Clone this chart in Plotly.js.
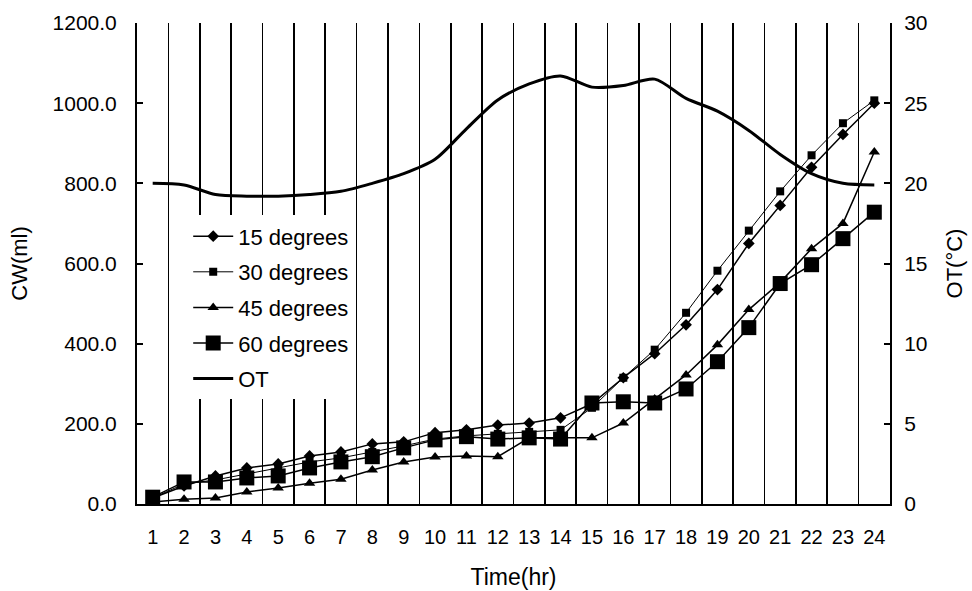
<!DOCTYPE html>
<html><head><meta charset="utf-8">
<script src="https://cdn.plot.ly/plotly-3.0.1.min.js"></script>
<style>html,body{margin:0;padding:0;background:#fff}#chart{width:972px;height:591px}</style>
</head><body><div id="chart"></div>
<script>
const hours = [1,2,3,4,5,6,7,8,9,10,11,12,13,14,15,16,17,18,19,20,21,22,23,24];
const deg15 = [15,45,70,90,100,120,130,150,155,178,185,197,202,215,250,315,375,447,535,650,745,840,922,1000];
const deg30 = [15,50,60,75,90,105,115,130,145,162,170,175,180,185,240,315,385,477,582,682,780,870,950,1007];
const deg45 = [5,12,15,30,40,52,62,85,105,117,120,118,165,165,165,202,262,322,397,485,553,637,700,878];
const deg60 = [17,55,55,65,70,90,105,118,140,160,168,162,165,162,252,255,252,287,355,440,550,597,662,728];
const ot = [20.0,19.9,19.3,19.2,19.2,19.3,19.5,20.0,20.6,21.5,23.4,25.2,26.2,26.7,26.0,26.1,26.5,25.3,24.5,23.3,21.8,20.6,20.0,19.9];
const names = ['15 degrees','30 degrees','45 degrees','60 degrees','OT'];

const FONT = 'Liberation Sans, Arial, sans-serif';
const traces = [
  {x: hours, y: deg15, name: names[0], mode: 'lines+markers', legendgroup:'a',
   line:{color:'#000', width:1.5}, marker:{symbol:'diamond', size:9, color:'#000'}},
  {x: hours, y: deg30, name: names[1], mode: 'lines+markers', legendgroup:'b',
   line:{color:'#000', width:1}, marker:{symbol:'square', size:8, color:'#000'}},
  {x: hours, y: deg45, name: names[2], mode: 'lines+markers', legendgroup:'c',
   line:{color:'#000', width:1.5}, marker:{symbol:'triangle-up', size:10, color:'#000'}},
  {x: hours, y: deg60, name: names[3], mode: 'lines+markers', legendgroup:'d',
   line:{color:'#000', width:1.5}, marker:{symbol:'square', size:15, color:'#000'}},
  {x: hours, y: ot, name: names[4], mode: 'lines', yaxis:'y2', legendgroup:'e',
   line:{color:'#000', width:3, shape:'spline', smoothing:0.8}}
];

const layout = {
  width: 972, height: 591,
  margin: {l:137, r:82, t:23, b:87},
  paper_bgcolor:'#fff', plot_bgcolor:'#fff',
  font: {family: FONT, size: 21, color:'#000'},
  showlegend: true,
  legend: {x: 0.068, y: 0.6, xanchor:'left', yanchor:'top', bgcolor:'#fff',
    font:{family:FONT, size:22, color:'#000'}, tracegroupgap: 4, itemwidth: 40, traceorder:'grouped'},
  xaxis: {range:[0.5,24.5], tickmode:'array', tickvals: hours, ticktext: hours.map(String),
    showgrid:false, zeroline:false, showline:true, linecolor:'#000', linewidth:2, ticks:'',
    ticklabelstandoff: 14,
    minor:{tick0:0.5, dtick:1, showgrid:true, gridcolor:'#000', gridwidth:1.6, ticks:''},
    title:{text:'Time(hr)', font:{family:FONT, size:23}, standoff: 22},
    tickfont:{family:FONT, size:20}},
  yaxis: {range:[0,1200], dtick:200, tickformat:'.1f', showgrid:false, zeroline:false,
    showline:true, linecolor:'#000', linewidth:2, ticks:'inside', ticklen:6, tickwidth:2, tickcolor:'#000',
    ticklabelstandoff: 14,
    title:{text:'CW(ml)', font:{family:FONT, size:22}, standoff: 19},
    tickfont:{family:FONT, size:21}},
  yaxis2: {range:[0,30], dtick:5, overlaying:'y', side:'right', showgrid:false, zeroline:false,
    showline:true, linecolor:'#000', linewidth:2, ticks:'inside', ticklen:6, tickwidth:2, tickcolor:'#000',
    ticklabelstandoff: 8,
    title:{text:'OT(°C)', font:{family:FONT, size:22}, standoff: 20},
    tickfont:{family:FONT, size:21}}
};
Plotly.newPlot('chart', traces, layout, {displayModeBar:false, staticPlot:true});
</script></body></html>
